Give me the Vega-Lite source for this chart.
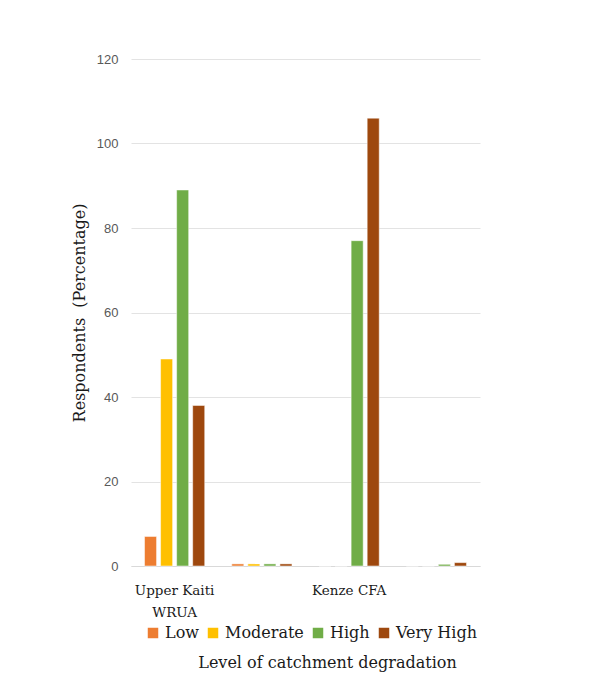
{
  "$schema": "https://vega.github.io/schema/vega-lite/v6.json",
  "width": 349,
  "height": 507,
  "autosize": {"type": "none"},
  "padding": {"left": 131, "top": 59, "right": 112, "bottom": 109},
  "background": "white",
  "data": {
    "values": [
      {"site": "Upper Kaiti WRUA", "level": "Low", "pct": 7},
      {"site": "Upper Kaiti WRUA", "level": "Moderate", "pct": 49},
      {"site": "Upper Kaiti WRUA", "level": "High", "pct": 89},
      {"site": "Upper Kaiti WRUA", "level": "Very High", "pct": 38},
      {"site": "G2", "level": "Low", "pct": 0.5},
      {"site": "G2", "level": "Moderate", "pct": 0.5},
      {"site": "G2", "level": "High", "pct": 0.5},
      {"site": "G2", "level": "Very High", "pct": 0.5},
      {"site": "Kenze CFA", "level": "Low", "pct": 0},
      {"site": "Kenze CFA", "level": "Moderate", "pct": 0},
      {"site": "Kenze CFA", "level": "High", "pct": 77},
      {"site": "Kenze CFA", "level": "Very High", "pct": 106},
      {"site": "G4", "level": "Low", "pct": 0},
      {"site": "G4", "level": "Moderate", "pct": 0},
      {"site": "G4", "level": "High", "pct": 0.4},
      {"site": "G4", "level": "Very High", "pct": 0.8}
    ]
  },
  "mark": {"type": "bar", "stroke": "white", "strokeWidth": 0.5},
  "encoding": {
    "x": {
      "field": "site",
      "type": "nominal",
      "sort": ["Upper Kaiti WRUA", "G2", "Kenze CFA", "G4"],
      "scale": {"paddingInner": 0.31, "paddingOuter": 0.155},
      "axis": {
        "title": "Level of catchment degradation",
        "titleFont": "DejaVu Serif",
        "titleFontSize": 16,
        "titleFontWeight": "normal",
        "titleColor": "#1a1a1a",
        "titleX": 196,
        "titleY": 96,
        "titleBaseline": "middle",
        "labelAngle": 0,
        "labelFont": "DejaVu Serif",
        "labelFontSize": 13.5,
        "labelColor": "#1a1a1a",
        "labelPadding": 17,
        "labelLineHeight": 22,
        "labelExpr": "datum.value == 'Upper Kaiti WRUA' ? ['Upper Kaiti', 'WRUA'] : (datum.value == 'Kenze CFA' ? 'Kenze CFA' : '')",
        "ticks": false,
        "domainColor": "#d9d9d9",
        "domainWidth": 1
      }
    },
    "xOffset": {
      "field": "level",
      "type": "nominal",
      "sort": ["Low", "Moderate", "High", "Very High"],
      "scale": {"paddingInner": 0.25}
    },
    "y": {
      "field": "pct",
      "type": "quantitative",
      "scale": {"domain": [0, 120]},
      "axis": {
        "values": [0, 20, 40, 60, 80, 100, 120],
        "title": "Respondents\u00a0 (Percentage)",
        "titleFont": "DejaVu Serif",
        "titleFontSize": 16,
        "titleFontWeight": "normal",
        "titleColor": "#1a1a1a",
        "titleX": -52,
        "titleBaseline": "middle",
        "labelFont": "Liberation Sans",
        "labelFontSize": 13,
        "labelColor": "#595959",
        "labelPadding": 13,
        "ticks": false,
        "domain": false,
        "gridColor": "#e3e3e3",
        "gridWidth": 1
      }
    },
    "color": {
      "field": "level",
      "type": "nominal",
      "sort": ["Low", "Moderate", "High", "Very High"],
      "scale": {
        "domain": ["Low", "Moderate", "High", "Very High"],
        "range": ["#ED7D31", "#FFC000", "#70AD47", "#9E480E"]
      },
      "legend": {
        "title": null,
        "orient": "none",
        "direction": "horizontal",
        "legendX": 14,
        "legendY": 566,
        "symbolType": "square",
        "symbolSize": 110,
        "symbolStrokeWidth": 0,
        "labelFont": "DejaVu Serif",
        "labelFontSize": 16,
        "labelColor": "#1a1a1a",
        "labelOffset": 4,
        "columnPadding": 6
      }
    }
  },
  "config": {"view": {"stroke": null}}
}
